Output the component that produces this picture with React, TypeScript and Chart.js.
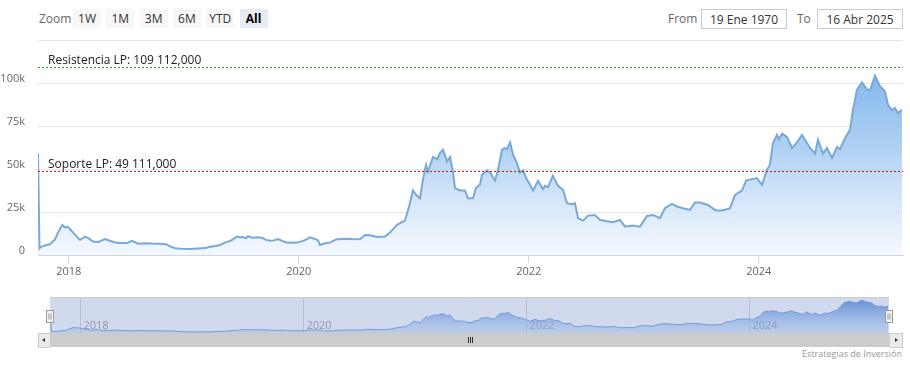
import React, { useEffect, useRef } from 'react';
import { Chart, registerables } from 'chart.js';

Chart.register(...registerables);

// ---- data (decimal years, USD) ----
const dates = [
  2017.732, 2017.745, 2017.758, 2017.793, 2017.837, 2017.880, 2017.906, 2017.943, 2017.967, 2017.984,
  2018.002, 2018.037, 2018.071, 2018.097, 2018.141, 2018.176, 2018.210, 2018.254, 2018.315, 2018.358,
  2018.402, 2018.445, 2018.506, 2018.550, 2018.602, 2018.663, 2018.723, 2018.793, 2018.845, 2018.880,
  2018.923, 2018.984, 2019.054, 2019.123, 2019.184, 2019.228, 2019.271, 2019.315, 2019.358, 2019.384,
  2019.419, 2019.445, 2019.463, 2019.489, 2019.515, 2019.541, 2019.558, 2019.576, 2019.602, 2019.637,
  2019.680, 2019.715, 2019.750, 2019.784, 2019.819, 2019.863, 2019.897, 2019.941, 2019.984, 2020.037,
  2020.063, 2020.097, 2020.141, 2020.167, 2020.184, 2020.228, 2020.271, 2020.315, 2020.341, 2020.402,
  2020.463, 2020.532, 2020.576, 2020.619, 2020.680, 2020.750, 2020.793, 2020.854, 2020.889, 2020.923,
  2020.958, 2020.993, 2021.019, 2021.054, 2021.080, 2021.106, 2021.123, 2021.167, 2021.202, 2021.228,
  2021.254, 2021.289, 2021.315, 2021.341, 2021.358, 2021.402, 2021.445, 2021.471, 2021.515, 2021.541,
  2021.576, 2021.593, 2021.637, 2021.663, 2021.706, 2021.732, 2021.767, 2021.793, 2021.811, 2021.837,
  2021.863, 2021.897, 2021.923, 2021.950, 2021.984, 2022.010, 2022.037, 2022.080, 2022.123, 2022.141,
  2022.167, 2022.210, 2022.254, 2022.297, 2022.332, 2022.376, 2022.402, 2022.428, 2022.471, 2022.515,
  2022.576, 2022.619, 2022.680, 2022.732, 2022.793, 2022.837, 2022.906, 2022.967, 2023.028, 2023.080,
  2023.141, 2023.184, 2023.245, 2023.289, 2023.341, 2023.402, 2023.445, 2023.489, 2023.558, 2023.619,
  2023.663, 2023.715, 2023.750, 2023.793, 2023.854, 2023.889, 2023.941, 2023.984, 2024.028, 2024.071,
  2024.097, 2024.123, 2024.158, 2024.176, 2024.202, 2024.245, 2024.289, 2024.332, 2024.376, 2024.402,
  2024.445, 2024.489, 2024.515, 2024.558, 2024.593, 2024.637, 2024.680, 2024.706, 2024.750, 2024.793,
  2024.819, 2024.854, 2024.897, 2024.941, 2024.967, 2025.010, 2025.054, 2025.097, 2025.123, 2025.158,
  2025.184, 2025.210, 2025.245,
];

const prices = [
  59000, 3800, 4700, 5500, 6400, 9000, 13000, 17500, 16000, 16500,
  15700, 13000, 10500, 8700, 10700, 9500, 7800, 7500, 9300, 8300,
  7300, 7000, 7000, 8200, 6600, 6900, 6700, 6600, 6300, 5000,
  3900, 3600, 3500, 3800, 4000, 4800, 5200, 5800, 7200, 7800,
  8700, 10000, 10700, 10300, 10500, 9700, 11000, 10500, 10000, 10300,
  10000, 8800, 8300, 8500, 9300, 8000, 7200, 7100, 7200, 8200,
  9000, 10300, 9300, 8500, 5800, 6800, 7200, 8800, 9100, 9500,
  9300, 9200, 11600, 11500, 10500, 10700, 13000, 17500, 18800, 20000,
  28000, 37500, 35000, 33000, 44000, 52400, 48500, 57000, 55800, 59300,
  61200, 54400, 57000, 48000, 38900, 37500, 37500, 33000, 33000, 39000,
  41000, 46600, 49100, 48000, 43300, 49500, 61200, 62200, 61600, 65500,
  58300, 53400, 48000, 49100, 43700, 41000, 37500, 43100, 38300, 40200,
  39400, 46000, 40200, 37900, 30100, 29500, 30100, 21400, 20000, 22900,
  23300, 20400, 19600, 19000, 20400, 16500, 17100, 16500, 22700, 23300,
  21400, 27200, 29700, 28200, 27200, 26200, 30500, 30500, 29100, 26200,
  25800, 26500, 27200, 35000, 37500, 43300, 44100, 44700, 40800, 49500,
  52500, 65100, 69900, 67400, 70500, 68600, 62200, 65500, 69900, 67000,
  62200, 58900, 67000, 58900, 62200, 56400, 62800, 61600, 67900, 72800,
  84500, 96200, 100400, 96200, 95800, 104300, 98100, 95200, 87400, 84100,
  85500, 82600, 84500,
];

const yearTicks = [2018, 2020, 2022, 2024];
const yTicks = [0, 25000, 50000, 75000, 100000, 125000];
const xRange = [2017.732, 2025.254];
const levelValues = [109112, 49111];
const levelLabels = ['Resistencia LP: 109 112,000', 'Soporte LP: 49 111,000'];
const levelColors = ['#2f8f2f', '#cc1111'];
const rangeButtons = ['1W', '1M', '3M', '6M', 'YTD', 'All'];
const selectedButton = 'All';
const fromDate = '19 Ene 1970';
const toDate = '16 Abr 2025';
const credits = 'Estrategias de Inversión';

const FONT = '"Open Sans", "Liberation Sans", Arial, sans-serif';

const points = dates.map((d, i) => ({ x: d, y: prices[i] }));

const levelPlugin = {
  id: 'levelPlugin',
  afterDatasetsDraw(chart: any) {
    const { ctx, chartArea, scales } = chart;
    ctx.save();
    levelValues.forEach((v, i) => {
      const py = Math.round(scales.y.getPixelForValue(v)) + 0.5;
      ctx.strokeStyle = levelColors[i];
      ctx.lineWidth = 1;
      ctx.setLineDash([2, 2]);
      ctx.beginPath();
      ctx.moveTo(chartArea.left, py);
      ctx.lineTo(chartArea.right, py);
      ctx.stroke();
      ctx.setLineDash([]);
      ctx.fillStyle = '#222';
      ctx.font = `12px ${FONT}`;
      ctx.textBaseline = 'alphabetic';
      ctx.textAlign = 'left';
      ctx.fillText(levelLabels[i], chartArea.left + 10, py - 3.5);
    });
    ctx.restore();
  },
};

const navPlugin = {
  id: 'navPlugin',
  beforeDatasetsDraw(chart: any) {
    const { ctx, chartArea, scales } = chart;
    ctx.save();
    ctx.fillStyle = 'rgba(102,133,194,0.3)';
    ctx.fillRect(chartArea.left, chartArea.top, chartArea.right - chartArea.left, chartArea.bottom - chartArea.top);
    ctx.strokeStyle = 'rgba(110,120,160,0.28)';
    ctx.lineWidth = 1;
    ctx.font = `11px ${FONT}`;
    ctx.textBaseline = 'alphabetic';
    ctx.textAlign = 'left';
    yearTicks.forEach((yr) => {
      const px = Math.round(scales.x.getPixelForValue(yr)) + 0.5;
      ctx.beginPath();
      ctx.moveTo(px, chartArea.top);
      ctx.lineTo(px, chartArea.bottom);
      ctx.stroke();
      ctx.fillStyle = '#8d97ad';
      ctx.fillText(String(yr), px + 3, chartArea.bottom - 4);
    });
    ctx.restore();
  },
  afterDraw(chart: any) {
    const { ctx, chartArea } = chart;
    ctx.save();
    ctx.strokeStyle = '#cccccc';
    ctx.lineWidth = 1;
    ctx.beginPath();
    ctx.moveTo(chartArea.left, 0.5);
    ctx.lineTo(chartArea.right, 0.5);
    ctx.stroke();
    [chartArea.left, chartArea.right].forEach((cx) => {
      const x0 = Math.round(cx) - 3.5;
      const y0 = 13.5;
      ctx.fillStyle = '#f2f2f2';
      ctx.strokeStyle = '#999999';
      ctx.fillRect(x0, y0, 7, 12);
      ctx.strokeRect(x0, y0, 7, 12);
      ctx.beginPath();
      ctx.moveTo(x0 + 2.5, y0 + 3);
      ctx.lineTo(x0 + 2.5, y0 + 9);
      ctx.moveTo(x0 + 4.5, y0 + 3);
      ctx.lineTo(x0 + 4.5, y0 + 9);
      ctx.stroke();
    });
    ctx.restore();
  },
};

function MainChart() {
  const ref = useRef<HTMLCanvasElement>(null);
  useEffect(() => {
    if (!ref.current) return;
    const chart = new Chart(ref.current, {
      type: 'line',
      data: {
        datasets: [
          {
            data: points,
            borderColor: '#7aa8d8',
            borderWidth: 2,
            pointRadius: 0,
            tension: 0,
            fill: 'origin',
            backgroundColor: (c: any) => {
              const { chart } = c;
              const area = chart.chartArea;
              if (!area) return 'rgba(124,181,236,0.4)';
              const g = chart.ctx.createLinearGradient(0, area.top, 0, area.bottom);
              g.addColorStop(0, 'rgba(112,170,232,1)');
              g.addColorStop(0.5, 'rgba(160,200,242,0.85)');
              g.addColorStop(1, 'rgba(235,243,252,0.6)');
              return g;
            },
          },
        ],
      },
      options: {
        animation: false,
        responsive: false,
        devicePixelRatio: 1,
        layout: { padding: { left: 0, right: 7, top: 40, bottom: 0 } },
        plugins: { legend: { display: false }, tooltip: { enabled: false } },
        scales: {
          x: {
            type: 'linear',
            min: xRange[0],
            max: xRange[1],
            afterBuildTicks: (s: any) => {
              s.ticks = yearTicks.map((v) => ({ value: v }));
            },
            afterFit: (s: any) => {
              s.height = 35;
            },
            ticks: {
              autoSkip: false,
              maxRotation: 0,
              padding: 2,
              color: '#666666',
              font: { family: FONT, size: 11 },
              callback: (v: any) => String(v),
            },
            grid: { drawOnChartArea: false, drawTicks: true, tickLength: 8, color: '#ccd6eb' },
            border: { display: true, color: '#ccd6eb' },
          },
          y: {
            type: 'linear',
            min: yTicks[0],
            max: yTicks[yTicks.length - 1],
            afterBuildTicks: (s: any) => {
              s.ticks = yTicks.map((v) => ({ value: v }));
            },
            afterFit: (s: any) => {
              s.width = 38;
            },
            ticks: {
              padding: 13,
              labelOffset: -4,
              color: '#666666',
              font: { family: FONT, size: 11 },
              callback: (v: any) => (v === 0 ? '0' : v === 125000 ? '' : `${v / 1000}k`),
            },
            grid: { drawTicks: false, color: '#e6e6e6' },
            border: { display: false },
          },
        },
      } as any,
      plugins: [levelPlugin],
    });
    return () => chart.destroy();
  }, []);
  return <canvas ref={ref} width={910} height={290} style={{ position: 'absolute', left: 0, top: 0, width: 910, height: 290 }} />;
}

function NavChart() {
  const ref = useRef<HTMLCanvasElement>(null);
  useEffect(() => {
    if (!ref.current) return;
    const chart = new Chart(ref.current, {
      type: 'line',
      data: {
        datasets: [
          {
            data: points,
            borderColor: '#6f9bd8',
            borderWidth: 1,
            pointRadius: 0,
            tension: 0,
            fill: 'origin',
            backgroundColor: (c: any) => {
              const { chart } = c;
              const area = chart.chartArea;
              if (!area) return 'rgba(90,140,215,0.5)';
              const g = chart.ctx.createLinearGradient(0, area.top, 0, area.bottom);
              g.addColorStop(0, 'rgba(85,135,212,0.95)');
              g.addColorStop(1, 'rgba(150,180,230,0.35)');
              return g;
            },
          },
        ],
      },
      options: {
        animation: false,
        responsive: false,
        devicePixelRatio: 1,
        layout: { padding: { left: 50, right: 21, top: 0, bottom: 0 } },
        plugins: { legend: { display: false }, tooltip: { enabled: false } },
        scales: {
          x: { type: 'linear', display: false, min: xRange[0], max: xRange[1] },
          y: { type: 'linear', display: false, min: 0, max: 114000 },
        },
      } as any,
      plugins: [navPlugin],
    });
    return () => chart.destroy();
  }, []);
  return <canvas ref={ref} width={910} height={36} style={{ position: 'absolute', left: 0, top: 297, width: 910, height: 36 }} />;
}

export default function App() {
  const btnBase: React.CSSProperties = {
    position: 'absolute',
    top: 9,
    width: 28,
    height: 19,
    display: 'flex',
    alignItems: 'center',
    justifyContent: 'center',
    fontSize: 12,
    fontFamily: FONT,
    color: '#333',
    background: '#f7f7f7',
  };
  const inputBox: React.CSSProperties = {
    position: 'absolute',
    top: 9,
    width: 84,
    height: 18,
    border: '1px solid #cccccc',
    display: 'flex',
    alignItems: 'center',
    justifyContent: 'center',
    fontSize: 12,
    fontFamily: FONT,
    color: '#333',
    background: '#fff',
  };
  const label: React.CSSProperties = {
    position: 'absolute',
    top: 9,
    height: 19,
    display: 'flex',
    alignItems: 'center',
    fontSize: 12,
    fontFamily: FONT,
    color: '#666',
  };
  return (
    <div style={{ position: 'fixed', left: 0, top: 0, width: 910, height: 366, background: '#fff', overflow: 'hidden' }}>
      <div style={{ ...label, left: 39 }}>Zoom</div>
      {rangeButtons.map((b, i) => (
        <div
          key={b}
          style={{
            ...btnBase,
            left: 73 + i * 33.3,
            background: b === selectedButton ? '#e6ebf5' : '#f7f7f7',
            fontWeight: b === selectedButton ? 'bold' : 'normal',
            color: b === selectedButton ? '#000' : '#333',
          }}
        >
          {b}
        </div>
      ))}
      <div style={{ ...label, left: 668 }}>From</div>
      <div style={{ ...inputBox, left: 701 }}>{fromDate}</div>
      <div style={{ ...label, left: 797 }}>To</div>
      <div style={{ ...inputBox, left: 817 }}>{toDate}</div>
      <MainChart />
      <NavChart />
      {/* scrollbar */}
      <div style={{ position: 'absolute', left: 38, top: 333, width: 865, height: 14, background: '#f2f2f2' }} />
      <div style={{ position: 'absolute', left: 50, top: 333, width: 840, height: 14, background: '#cccccc' }} />
      <div style={{ position: 'absolute', left: 468, top: 337, width: 1, height: 6, background: '#333' }} />
      <div style={{ position: 'absolute', left: 470, top: 337, width: 1, height: 6, background: '#333' }} />
      <div style={{ position: 'absolute', left: 472, top: 337, width: 1, height: 6, background: '#333' }} />
      <div style={{ position: 'absolute', left: 38, top: 333, width: 11, height: 13, background: '#ebebeb', border: '1px solid #cccccc', borderRight: 'none' }}>
        <div style={{ position: 'absolute', left: 3, top: 4, width: 0, height: 0, borderTop: '2.5px solid transparent', borderBottom: '2.5px solid transparent', borderRight: '3px solid #333' }} />
      </div>
      <div style={{ position: 'absolute', left: 890, top: 333, width: 12, height: 13, background: '#ebebeb', border: '1px solid #cccccc', borderLeft: 'none' }}>
        <div style={{ position: 'absolute', left: 5, top: 4, width: 0, height: 0, borderTop: '2.5px solid transparent', borderBottom: '2.5px solid transparent', borderLeft: '3px solid #333' }} />
      </div>
      <div style={{ position: 'absolute', right: 8, top: 347, fontSize: 9, fontFamily: FONT, color: '#999', whiteSpace: 'nowrap' }}>{credits}</div>
    </div>
  );
}
